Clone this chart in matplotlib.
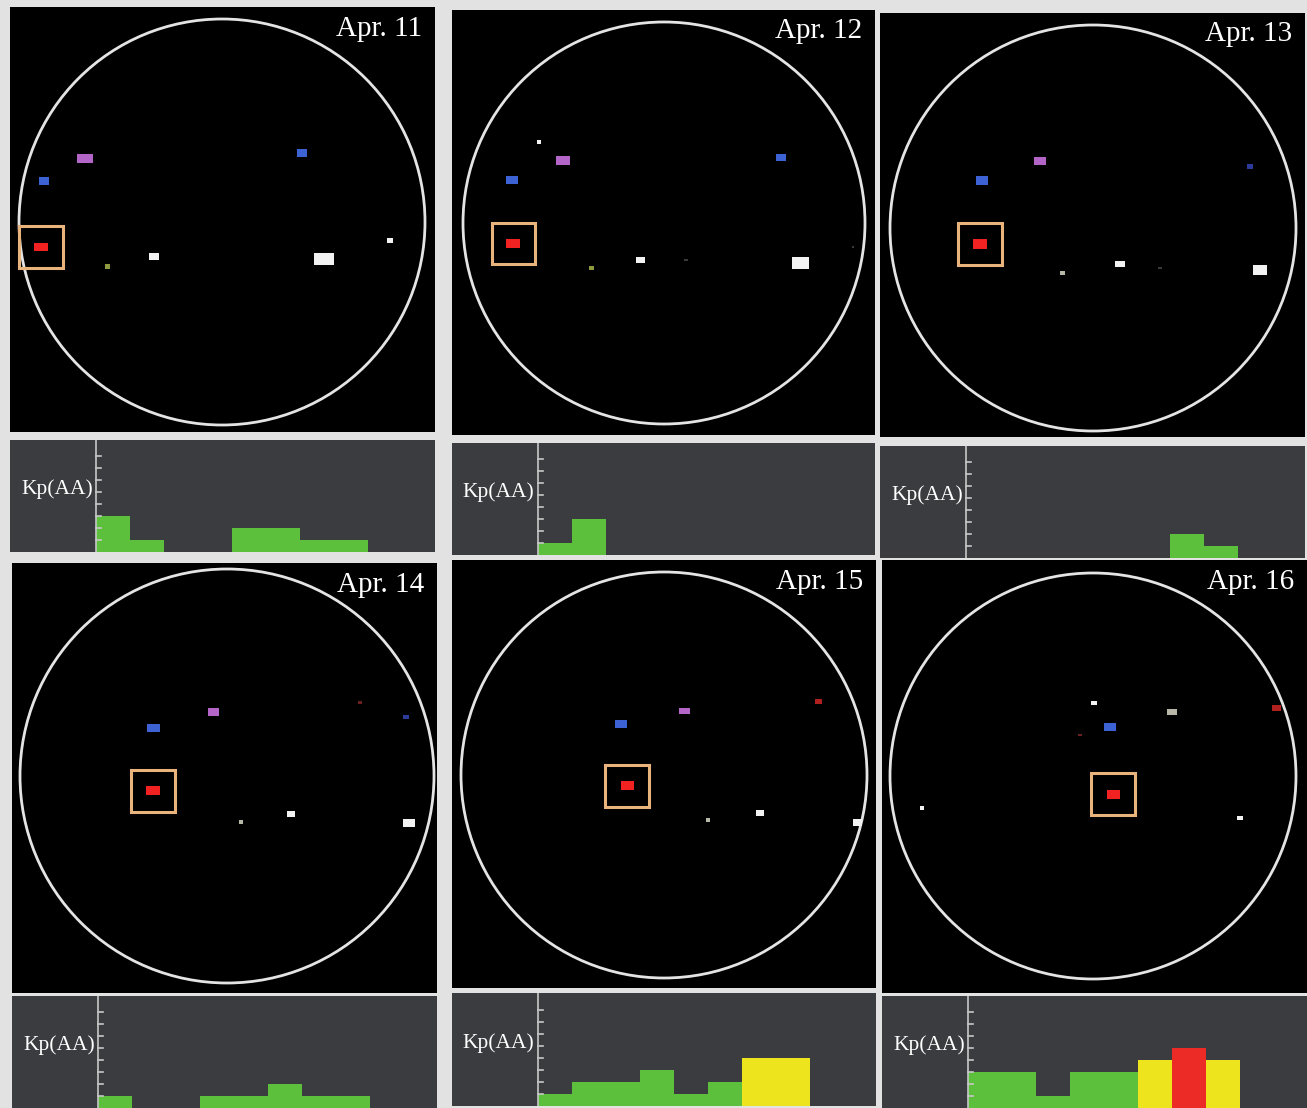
import matplotlib
matplotlib.use("Agg")
import matplotlib.pyplot as plt
from matplotlib.patches import Circle, Rectangle

plt.rcParams['font.family'] = ['Liberation Serif', 'DejaVu Serif']

W, H = 1307, 1108

days = ["Apr. 11", "Apr. 12", "Apr. 13", "Apr. 14", "Apr. 15", "Apr. 16"]

# Kp index, eight 3-hour intervals per day
kp_apr11 = [3, 1, 0, 0, 2, 2, 1, 1]
kp_apr12 = [1, 3, 0, 0, 0, 0, 0, 0]
kp_apr13 = [0, 0, 0, 0, 0, 0, 2, 1]
kp_apr14 = [1, 0, 0, 1, 1, 2, 1, 1]
kp_apr15 = [1, 2, 2, 3, 1, 2, 4, 4]
kp_apr16 = [3, 3, 1, 3, 3, 4, 5, 4]
kp_days = [kp_apr11, kp_apr12, kp_apr13, kp_apr14, kp_apr15, kp_apr16]

# spots on the disk: x, y (disk radii), width, height, kind
spots_apr11 = [(-0.675, 0.315, 0.079, 0.044, "mag"), (-0.877, 0.202, 0.050, 0.035, "blue"),
               (0.394, 0.340, 0.050, 0.035, "blue"), (-0.892, -0.123, 0.069, 0.040, "red"),
               (-0.562, -0.217, 0.025, 0.025, "olive"), (-0.335, -0.172, 0.049, 0.034, "white"),
               (0.502, -0.182, 0.099, 0.060, "white"), (0.828, -0.089, 0.030, 0.025, "white")]
spots_apr12 = [(-0.622, 0.403, 0.020, 0.020, "white"), (-0.502, 0.313, 0.070, 0.045, "mag"),
               (-0.756, 0.214, 0.060, 0.040, "blue"), (0.582, 0.328, 0.050, 0.035, "blue"),
               (-0.751, -0.100, 0.070, 0.045, "red"), (-0.363, -0.224, 0.025, 0.020, "olive"),
               (-0.119, -0.184, 0.045, 0.030, "white"), (0.109, -0.184, 0.020, 0.012, "faint"),
               (0.677, -0.199, 0.085, 0.055, "white"), (0.940, -0.119, 0.012, 0.012, "faint")]
spots_apr13 = [(-0.261, 0.330, 0.060, 0.040, "mag"), (-0.547, 0.232, 0.060, 0.045, "blue"),
               (0.773, 0.305, 0.030, 0.025, "dblue"), (-0.557, -0.079, 0.070, 0.045, "red"),
               (-0.148, -0.222, 0.025, 0.020, "gray"), (0.133, -0.177, 0.050, 0.030, "white"),
               (0.330, -0.197, 0.020, 0.012, "faint"), (0.823, -0.207, 0.070, 0.045, "white")]
spots_apr14 = [(-0.063, 0.309, 0.053, 0.039, "mag"), (-0.357, 0.232, 0.063, 0.039, "blue"),
               (0.643, 0.353, 0.020, 0.015, "dred"), (0.865, 0.285, 0.025, 0.022, "dblue"),
               (-0.357, -0.072, 0.068, 0.043, "red"), (0.068, -0.222, 0.020, 0.018, "gray"),
               (0.309, -0.184, 0.043, 0.029, "white"), (0.879, -0.227, 0.058, 0.043, "white")]
spots_apr15 = [(-0.212, 0.251, 0.059, 0.039, "blue"), (0.099, 0.315, 0.054, 0.030, "mag"),
               (0.759, 0.360, 0.034, 0.025, "mred"), (-0.182, -0.054, 0.064, 0.044, "red"),
               (0.217, -0.222, 0.020, 0.018, "gray"), (0.473, -0.187, 0.039, 0.030, "white"),
               (0.951, -0.232, 0.044, 0.034, "white")]
spots_apr16 = [(0.005, 0.360, 0.025, 0.020, "white"), (0.389, 0.315, 0.049, 0.030, "gray"),
               (0.906, 0.335, 0.044, 0.025, "mred"), (-0.064, 0.202, 0.015, 0.012, "dred"),
               (0.084, 0.241, 0.059, 0.039, "blue"), (0.099, -0.089, 0.064, 0.044, "red"),
               (-0.842, -0.158, 0.020, 0.018, "white"), (0.724, -0.207, 0.025, 0.022, "white")]
spot_days = [spots_apr11, spots_apr12, spots_apr13, spots_apr14, spots_apr15, spots_apr16]

spot_colors = {"mag": "#b466c8", "blue": "#3c62d4", "dblue": "#2c3a9a", "red": "#f22222",
               "mred": "#b0201e", "dred": "#6a2020", "white": "#f2f2f2", "gray": "#b8b8a8",
               "olive": "#8f9a3e", "faint": "#3a3a3a"}

# panel layout in pixels: disk box, disk centre/radius, kp box
disk_boxes = [(10, 7, 425, 425), (452, 10, 423, 425), (880, 13, 425, 424),
              (12, 563, 425, 430), (452, 560, 424, 428), (882, 560, 425, 433)]
disk_geo = [(222, 222, 203), (664, 223, 201), (1093, 228, 203),
            (227, 776, 207), (664, 775, 203), (1093, 776, 203)]
kp_boxes = [(10, 440, 425, 112), (452, 443, 423, 112), (880, 446, 425, 112),
            (12, 996, 425, 112), (452, 993, 424, 113), (882, 996, 425, 112)]


def px_axes(fig, box):
    l, t, w, h = box
    return fig.add_axes([l / W, 1 - (t + h) / H, w / W, h / H])


def kp_color(v):
    if v >= 5:
        return "#ec2a26"
    if v >= 4:
        return "#eee41e"
    return "#5cc03c"


fig = plt.figure(figsize=(W / 100, H / 100), dpi=100, facecolor="#e2e2e2")

for i, day in enumerate(days):
    # solar disk
    l, t, w, h = disk_boxes[i]
    cx, cy, r = disk_geo[i]
    ax = px_axes(fig, disk_boxes[i])
    ax.set_facecolor("black")
    ax.set_xlim((l - cx) / r, (l + w - cx) / r)
    ax.set_ylim((cy - (t + h)) / r, (cy - t) / r)
    ax.add_patch(Circle((0, 0), 1, fill=False, ec="#e4e4e4", lw=2))
    for x, y, sw, sh, kind in spot_days[i]:
        ax.add_patch(Rectangle((x - sw / 2, y - sh / 2), sw, sh, color=spot_colors[kind], lw=0))
        if kind == "red":
            ax.add_patch(Rectangle((x - 0.107, y - 0.102), 0.214, 0.204, fill=False,
                                   ec="#e9b47c", lw=2.2))
    ax.text(0.97, 0.98, day, transform=ax.transAxes, ha="right", va="top",
            color="white", fontsize=21)
    ax.set_xticks([])
    ax.set_yticks([])
    for s in ax.spines.values():
        s.set_visible(False)

    # Kp histogram
    kl, kt, kw, kh = kp_boxes[i]
    kx = px_axes(fig, kp_boxes[i])
    kx.set_facecolor("#3b3c3f")
    kx.set_xlim(-86 / 34, (kw - 86) / 34)
    kx.set_ylim(0, kh / 12)
    vals = kp_days[i]
    kx.bar(range(len(vals)), vals, width=1.0, align="edge",
           color=[kp_color(v) for v in vals], linewidth=0)
    kx.axvline(0, color="#c8c8c8", lw=1.2)
    for k in range(1, 9):
        kx.plot([0, 0.15], [k, k], color="#c8c8c8", lw=1.2)
    kx.text(0.195, 0.56, "Kp(AA)", transform=kx.transAxes, ha="right", va="center",
            color="white", fontsize=15.5)
    kx.set_xticks([])
    kx.set_yticks([])
    for s in kx.spines.values():
        s.set_visible(False)

fig.savefig("out.png", dpi=100, facecolor=fig.get_facecolor())
